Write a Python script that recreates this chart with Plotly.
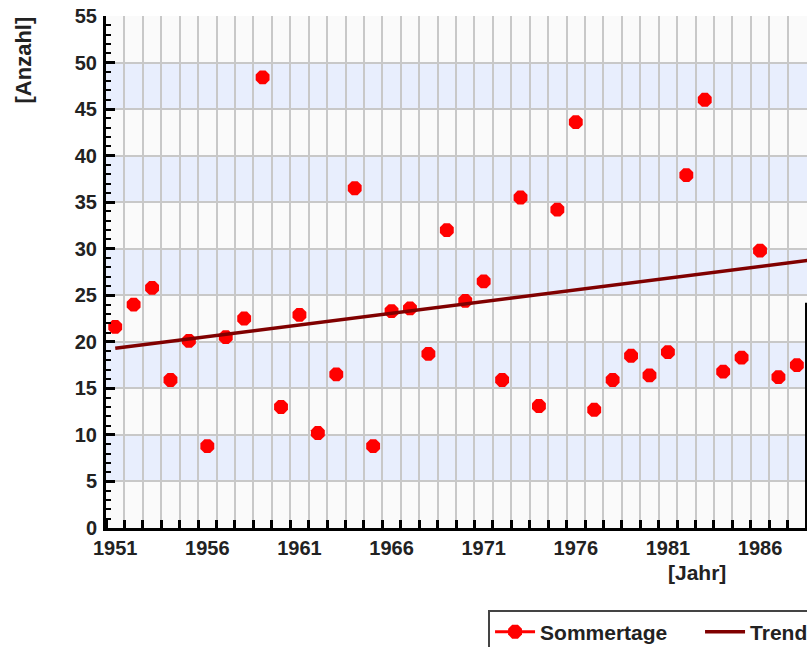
import plotly.graph_objects as go

years = list(range(1951, 1989))
sommertage = [21.6, 24.0, 25.8, 15.9, 20.1, 8.8, 20.5, 22.5, 48.4, 13.0,
              22.9, 10.2, 16.5, 36.5, 8.8, 23.3, 23.6, 18.7, 32.0, 24.4,
              26.5, 15.9, 35.5, 13.1, 34.2, 43.6, 12.7, 15.9, 18.5, 16.4,
              18.9, 37.9, 46.0, 16.8, 18.3, 29.8, 16.2, 17.5]
trend_years = [1951, 1989]
trend_values = [19.3, 28.85]
label_years = [1951, 1956, 1961, 1966, 1971, 1976, 1981, 1986]
band_ranges = [(5, 10), (15, 20), (25, 30), (35, 40), (45, 50)]

FONT = "Liberation Sans, Arial, sans-serif"
TXT = "#222222"
FS = 20

fig = go.Figure()
fig.add_trace(go.Scatter(
    x=years, y=sommertage, mode="markers", showlegend=False,
    marker=dict(symbol="octagon", size=15, color="#ff0000", line=dict(width=0)),
    name="Sommertage"))
fig.add_trace(go.Scatter(
    x=[None], y=[None], mode="lines+markers", name="Sommertage",
    marker=dict(symbol="octagon", size=15, color="#ff0000", line=dict(width=0)),
    line=dict(color="#ff0000", width=3)))
fig.add_trace(go.Scatter(
    x=trend_years, y=trend_values, mode="lines", name="Trend",
    line=dict(color="#800000", width=3.5)))

shapes = []
for lo, hi in band_ranges:
    shapes.append(dict(type="rect", xref="paper", yref="y", x0=0, x1=1, y0=lo, y1=hi,
                       fillcolor="#e8eefd", line=dict(width=0), layer="below"))
shapes.append(dict(type="line", xref="paper", yref="y", x0=0.9986, x1=0.9986, y0=0, y1=24.2,
                   line=dict(color="black", width=2)))

fig.update_layout(
    width=807, height=647,
    margin=dict(l=105.6, r=0, t=15.5, b=118.7, autoexpand=False),
    paper_bgcolor="white", plot_bgcolor="#fafafa",
    shapes=shapes,
    font=dict(family=FONT, size=FS, color=TXT, weight="bold"),
    xaxis=dict(
        range=[1950.5, 1988.55], tickmode="array", tickvals=label_years,
        ticktext=[str(y) for y in label_years], ticks="", showgrid=False,
        tickfont=dict(family=FONT, size=FS, color=TXT, weight="bold"),
        showline=True, linecolor="black", linewidth=3, zeroline=False,
        ticklabeloverflow="allow",
        minor=dict(tickmode="linear", tick0=1950.5, dtick=1, ticks="inside",
                   ticklen=8, tickwidth=3, tickcolor="black", showgrid=True,
                   gridcolor="#c8c8c8", gridwidth=2),
        layer="above traces"),
    yaxis=dict(
        range=[0, 55], tickmode="linear", tick0=0, dtick=5, ticks="inside",
        ticklen=9, tickwidth=3, tickcolor="black", showgrid=True,
        gridcolor="#c8c8c8", gridwidth=2, zeroline=False,
        showline=True, linecolor="black", linewidth=3,
        tickfont=dict(family=FONT, size=FS, color=TXT, weight="bold"),
        ticklabelstandoff=2, ticklabeloverflow="allow",
        minor=dict(tickmode="linear", tick0=0, dtick=1, ticks="inside",
                   ticklen=5, tickwidth=2, tickcolor="black", showgrid=False)),
    legend=dict(orientation="h", x=0.545, xanchor="left", y=-0.1593, yanchor="top",
                bgcolor="white", bordercolor="#444444", borderwidth=2,
                itemwidth=40, entrywidth=155,
                font=dict(family=FONT, size=21, color=TXT, weight="bold")),
    annotations=[
        dict(text="[Anzahl]", xref="paper", yref="paper", x=-0.117, y=0.915,
             textangle=-90, showarrow=False, xanchor="center", yanchor="middle",
             font=dict(family=FONT, size=22, color=TXT, weight="bold")),
        dict(text="[Jahr]", xref="paper", yref="paper", x=0.843, y=-0.087,
             showarrow=False, xanchor="center", yanchor="middle",
             font=dict(family=FONT, size=21, color=TXT, weight="bold")),
    ],
)

fig.write_html(
    "out.html",
    config={"displayModeBar": False},
    post_script="document.body.style.margin='0';document.body.style.overflow='hidden';"
)
